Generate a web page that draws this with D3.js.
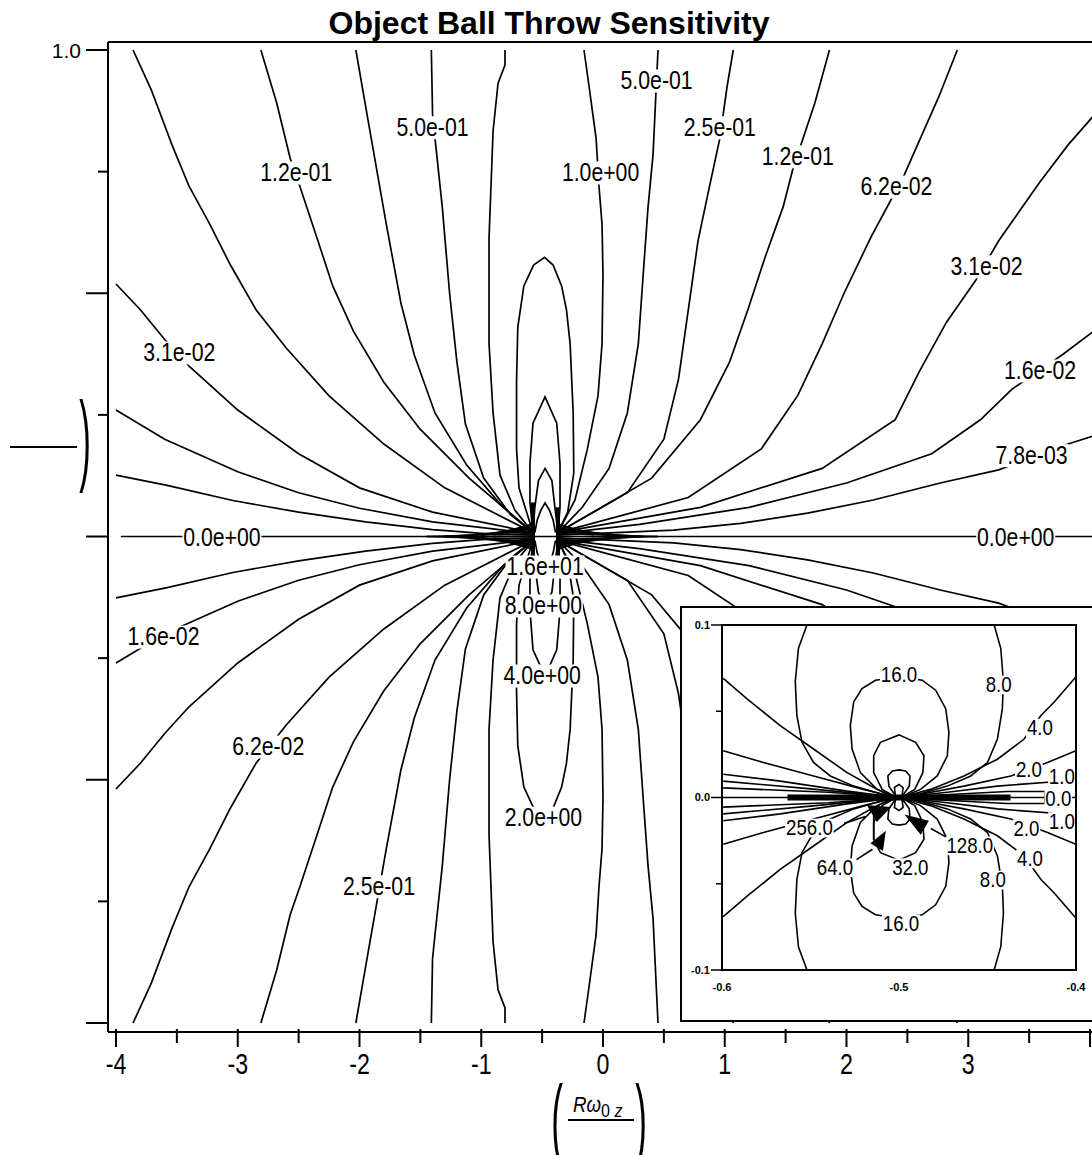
<!DOCTYPE html>
<html lang="en">
<head>
<meta charset="UTF-8">
<title>Object Ball Throw Sensitivity</title>
<script src="https://d3js.org/d3.v7.min.js"></script>
<style>
  body { margin: 0; background: #fff; }
  text { font-family: "Liberation Sans", Arial, sans-serif; fill: #000; }
  .title { font-weight: bold; }
</style>
</head>
<body>
<script>
const width = 1092, height = 1155;

// ---- main plot: tick values ----
const xTickValues = [-4, -3, -2, -1, 0, 1, 2, 3, 4];
const xTickLabels = ["-4", "-3", "-2", "-1", "0", "1", "2", "3"];
const xMinorTicks = [-3.5, -2.5, -1.5, -0.5, 0.5, 1.5, 2.5, 3.5];
const yMajorTicks = [1, 0.5, 0, -0.5, -1];
const yMinorTicks = [0.75, 0.25, -0.25, -0.75];

// ---- main plot contours, upper half (lower half is the mirror image) ----
const c1p0Left  = [[-0.805,1.0],[-0.805,0.969],[-0.862,0.932],[-0.903,0.833],[-0.936,0.614],[-0.936,0.396],[-0.903,0.254],[-0.846,0.126],[-0.723,0.054],[-0.575,0.008]];
const c1p0Right = [[-0.156,1.0],[-0.115,0.926],[-0.057,0.819],[-0.033,0.72],[-0.008,0.642],[0,0.538],[-0.008,0.396],[-0.041,0.289],[-0.13,0.178],[-0.23,0.075],[-0.37,0.008]];
const c5em1Left = [[-1.41,1.0],[-1.40,0.868],[-1.38,0.819],[-1.32,0.677],[-1.26,0.5],[-1.2,0.359],[-1.13,0.231],[-0.98,0.12],[-0.76,0.045],[-0.575,0.008]];
const c5em1Right = [[0.452,1.0],[0.435,0.912],[0.411,0.785],[0.37,0.677],[0.33,0.538],[0.29,0.396],[0.2,0.254],[0.05,0.14],[-0.17,0.06],[-0.37,0.008]];
const c2p5Left  = [[-2.03,1.0],[-1.93,0.856],[-1.78,0.642],[-1.66,0.48],[-1.55,0.373],[-1.38,0.254],[-1.12,0.147],[-0.82,0.06],[-0.575,0.008]];
const c2p5Right = [[1.07,1.0],[1.02,0.926],[0.96,0.819],[0.87,0.714],[0.78,0.607],[0.7,0.465],[0.62,0.323],[0.5,0.2],[0.2,0.09],[-0.37,0.008]];
const c1p2Left  = [[-2.81,1.0],[-2.68,0.891],[-2.57,0.778],[-2.49,0.72],[-2.36,0.622],[-2.22,0.515],[-2.05,0.422],[-1.8,0.317],[-1.5,0.22],[-1.1,0.12],[-0.575,0.008]];
const c1p2Right = [[1.86,1.0],[1.74,0.891],[1.56,0.756],[1.48,0.678],[1.33,0.573],[1.19,0.466],[1.04,0.359],[0.8,0.24],[0.4,0.12],[-0.37,0.008]];
const c6p2Left  = [[-3.86,1.0],[-3.71,0.918],[-3.54,0.805],[-3.40,0.72],[-3.23,0.642],[-3.06,0.558],[-2.85,0.466],[-2.6,0.387],[-2.25,0.289],[-1.8,0.19],[-1.3,0.1],[-0.575,0.008]];
const c6p2Right = [[2.91,1.0],[2.76,0.905],[2.47,0.741],[2.2,0.615],[1.98,0.5],[1.8,0.396],[1.6,0.29],[1.3,0.18],[0.7,0.08],[-0.37,0.008]];
const c3p1Left  = [[-4.0,0.519],[-3.8,0.466],[-3.6,0.405],[-3.4,0.35],[-3.0,0.26],[-2.5,0.17],[-2.0,0.1],[-1.4,0.05],[-0.575,0.008]];
const c3p1Right = [[4.02,0.862],[3.82,0.805],[3.59,0.729],[3.25,0.608],[3.06,0.526],[2.82,0.44],[2.6,0.34],[2.4,0.24],[1.8,0.14],[0.8,0.06],[-0.37,0.008]];
const c1p6Left  = [[-4.0,0.26],[-3.6,0.2],[-3.0,0.133],[-2.5,0.09],[-2.0,0.058],[-1.4,0.03],[-0.575,0.006]];
const c1p6Right = [[4.02,0.42],[3.77,0.373],[3.36,0.303],[3.1,0.24],[2.7,0.17],[2.0,0.11],[1.2,0.06],[0.3,0.025],[-0.37,0.006]];
const c7p8Left  = [[-4.0,0.126],[-3.58,0.105],[-3.04,0.074],[-2.5,0.05],[-1.95,0.03],[-1.4,0.014],[-0.86,0.004],[-0.575,0.003]];
const c7p8Right = [[4.02,0.206],[3.82,0.19],[3.25,0.137],[2.77,0.11],[2.22,0.075],[1.68,0.048],[1.13,0.027],[0.58,0.013],[-0.37,0.003]];
const loop2p0 = [[-0.575,0.008],[-0.69,0.1],[-0.71,0.18],[-0.71,0.32],[-0.70,0.43],[-0.65,0.515],[-0.57,0.558],[-0.48,0.574],[-0.41,0.558],[-0.34,0.515],[-0.30,0.466],[-0.27,0.396],[-0.245,0.254],[-0.24,0.13],[-0.29,0.05],[-0.37,0.008]];
const loop4p0 = [[-0.575,0.008],[-0.60,0.07],[-0.60,0.15],[-0.575,0.233],[-0.476,0.287],[-0.38,0.233],[-0.353,0.15],[-0.353,0.06],[-0.37,0.008]];
const loop8p0 = [[-0.575,0.008],[-0.56,0.06],[-0.53,0.115],[-0.476,0.14],[-0.42,0.115],[-0.395,0.06],[-0.37,0.008]];
const loop16p0 = [[-0.56,0.008],[-0.54,0.034],[-0.51,0.054],[-0.476,0.069],[-0.44,0.054],[-0.41,0.034],[-0.39,0.008]];
const bandLeft  = [[[-1.45,0.0],[-0.575,0.006]],[[-1.3,0.0],[-0.575,0.011]],[[-1.15,0.001],[-0.575,0.016]],[[-1.0,0.002],[-0.575,0.021]],[[-0.9,0.003],[-0.575,0.026]]];
const bandRight = [[[0.45,0.0],[-0.37,0.006]],[[0.32,0.0],[-0.37,0.011]],[[0.18,0.001],[-0.37,0.016]],[[0.05,0.002],[-0.37,0.021]],[[-0.08,0.003],[-0.37,0.026]]];
const centerBars = [[[-0.575,0.07],[-0.575,0.0]],[[-0.37,0.06],[-0.37,0.0]]];
const zeroLine = [[-3.96,0],[4.03,0]];

const mainUpper = [c1p0Left, c1p0Right, c5em1Left, c5em1Right, c2p5Left, c2p5Right,
  c1p2Left, c1p2Right, c6p2Left, c6p2Right, c3p1Left, c3p1Right, c1p6Left, c1p6Right,
  c7p8Left, c7p8Right, loop2p0, loop4p0, loop8p0, loop16p0, ...bandLeft, ...bandRight];

// contour labels, main plot
const mainLabelText = ["5.0e-01","1.2e-01","3.1e-02","0.0e+00","0.0e+00","5.0e-01","2.5e-01","1.0e+00","1.2e-01","6.2e-02","3.1e-02","1.6e-02","7.8e-03","1.6e+01","8.0e+00","4.0e+00","2.0e+00","1.6e-02","6.2e-02","2.5e-01"];
const mainLabelX = [-1.40,-2.52,-3.48,-3.13,3.39,0.44,0.96,-0.02,1.60,2.41,3.15,3.59,3.52,-0.476,-0.49,-0.50,-0.49,-3.61,-2.75,-1.84];
const mainLabelY = [0.842,0.749,0.379,0,0,0.938,0.842,0.749,0.782,0.720,0.556,0.342,0.168,-0.061,-0.141,-0.285,-0.577,-0.205,-0.431,-0.718];

// ---- inset (zoom on the singular point) ----
const insetYTicks = [0.1, 0.0, -0.1];
const insetYMinor = [0.05, -0.05];
const insetYLabels = ["0.1", "0.0", "-0.1"];
const insetXTicks = [-0.6, -0.5, -0.4];
const insetXLabels = ["-0.6", "-0.5", "-0.4"];

const i8Arc = [[-0.552,0.100],[-0.5568,0.0865],[-0.5586,0.0671],[-0.5577,0.0475],[-0.5548,0.032],[-0.5483,0.0203],[-0.5388,0.0125],[-0.5256,0.0066],[-0.5105,0.0022],[-0.5029,0.0003],
  [-0.4992,0.0003],[-0.4878,0.0022],[-0.4727,0.0066],[-0.4595,0.0125],[-0.45,0.0203],[-0.4444,0.0339],[-0.4416,0.0515],[-0.441,0.0671],[-0.4425,0.0865],[-0.4463,0.1002]];
const i16Loop = [[-0.5029,0.0003],[-0.5124,0.0047],[-0.5218,0.0144],[-0.5265,0.0281],[-0.5275,0.0417],[-0.5256,0.0554],[-0.5209,0.0632],[-0.5133,0.068],[-0.5,0.07],
  [-0.4869,0.068],[-0.4793,0.0622],[-0.4736,0.0515],[-0.4718,0.0378],[-0.4727,0.0242],[-0.4784,0.0125],[-0.4878,0.0047],[-0.4983,0.0003]];
const i32Loop = [[-0.502,0.0003],[-0.5095,0.0047],[-0.5143,0.0144],[-0.5143,0.0242],[-0.5105,0.032],[-0.5,0.0363],[-0.4906,0.032],[-0.4859,0.0242],[-0.4865,0.0144],[-0.4911,0.0047],[-0.4983,0.0003]];
const i64Loop = [[-0.5015,0.0003],[-0.5057,0.0066],[-0.5063,0.0125],[-0.5038,0.0154],[-0.5,0.016],[-0.4962,0.0154],[-0.4938,0.0125],[-0.4942,0.0066],[-0.4985,0.0003]];
const i128Loop = [[-0.502,0.0008],[-0.5026,0.0058],[-0.5,0.0076],[-0.4977,0.0058],[-0.4983,0.0008]];
const i4Left  = [[-0.5993,0.069],[-0.586,0.0573],[-0.5671,0.0417],[-0.5483,0.0281],[-0.5293,0.0144],[-0.5143,0.0058],[-0.5029,0.0003]];
const i4Right = [[-0.4,0.07],[-0.4123,0.0554],[-0.4198,0.0475],[-0.4293,0.0339],[-0.4444,0.0222],[-0.4633,0.0125],[-0.4822,0.0047],[-0.4983,0.0003]];
const i2Left  = [[-0.5993,0.0271],[-0.5766,0.0203],[-0.5483,0.0125],[-0.52,0.0047],[-0.5029,0.0003]];
const i2Right = [[-0.4,0.0271],[-0.4161,0.0203],[-0.4368,0.0125],[-0.4633,0.0066],[-0.4916,0.0012],[-0.4983,0.0003]];
const i1Left  = [[-0.5993,0.0135],[-0.5671,0.0095],[-0.5293,0.0037],[-0.5029,0.0003]];
const i1Right = [[-0.4142,0.0144],[-0.4142,0.009],[-0.4444,0.0066],[-0.4727,0.003],[-0.4983,0.0003]];
const iNearLeft  = [[[-0.5993,0.0095],[-0.5500,0.005],[-0.5029,0.0003]],[[-0.5993,0.0056],[-0.5400,0.003],[-0.5029,0.0003]]];
const iNearRight = [[[-0.4175,0.0],[-0.4175,0.0035],[-0.4390,0.0035],[-0.4983,0.0003]]];
const iZero = [[-0.6,0],[-0.4,0]];
const iZeroBand = [[-0.563,0],[-0.437,0]];
const insetUpper = [i8Arc, i16Loop, i32Loop, i64Loop, i128Loop, i4Left, i4Right, i2Left, i2Right, i1Left, i1Right, ...iNearLeft, ...iNearRight];

const insetBlobs = [
  [[-0.5171,-0.0051],[-0.5057,-0.006],[-0.5124,-0.0133]],
  [[-0.5152,-0.0265],[-0.5082,-0.0206],[-0.5095,-0.03]],
  [[-0.4954,-0.0109],[-0.484,-0.0139],[-0.4878,-0.0206]]
];
const insetLeaders = [
  [[-0.5143,-0.0089],[-0.5143,-0.0246]],
  [[-0.531,-0.015],[-0.519,-0.011]],
  [[-0.524,-0.036],[-0.515,-0.030]],
  [[-0.468,-0.026],[-0.482,-0.018]]
];

const insetLabelText = ["16.0","8.0","4.0","2.0","1.0","0.0","1.0","2.0","4.0","8.0","16.0","32.0","64.0","128.0","256.0"];
const insetLabelX = [-0.5,-0.4437,-0.4204,-0.4266,-0.408,-0.410,-0.408,-0.428,-0.426,-0.447,-0.4989,-0.4936,-0.5362,-0.460,-0.5506];
const insetLabelY = [0.0717,0.0658,0.0407,0.0164,0.0125,-0.0006,-0.0135,-0.0176,-0.0351,-0.0474,-0.0728,-0.0402,-0.0402,-0.0275,-0.0172];

// ---------------- drawing ----------------
const svg = d3.select("body").append("svg")
  .attr("width", width).attr("height", height)
  .style("display", "block");

const x = d3.scaleLinear().domain([-4, 4]).range([116, 1090]);
const y = d3.scaleLinear().domain([-1, 1]).range([1023, 50]);

const mirror = pts => pts.map(([a, b]) => [a, -b]);

const defs = svg.append("defs");
defs.append("clipPath").attr("id", "mainClip")
  .append("rect").attr("x", 109).attr("y", 43).attr("width", 990).attr("height", 988);

const line = d3.line().x(d => x(d[0])).y(d => y(d[1]));

const gMain = svg.append("g").attr("clip-path", "url(#mainClip)");
const mainAll = mainUpper.concat(mainUpper.map(mirror));
gMain.selectAll("path.c").data(mainAll).join("path")
  .attr("class", "c")
  .attr("d", line)
  .attr("fill", "none").attr("stroke", "#000").attr("stroke-width", 1.7);
gMain.append("path").datum(zeroLine).attr("d", line)
  .attr("fill", "none").attr("stroke", "#000").attr("stroke-width", 1.7);
gMain.selectAll("path.bar").data(centerBars.concat(centerBars.map(mirror))).join("path")
  .attr("class", "bar").attr("d", line)
  .attr("fill", "none").attr("stroke", "#000").attr("stroke-width", 4);

// narrow labels with a white gap behind them
function addLabels(g, texts, xs, ys, sx, sy, size, k) {
  const lg = g.append("g");
  texts.forEach((t, i) => {
    const cell = lg.append("g")
      .attr("transform", `translate(${sx(xs[i])},${sy(ys[i])}) scale(${k},1)`);
    const tx = cell.append("text")
      .attr("text-anchor", "middle").attr("dy", "0.36em")
      .attr("font-size", size).text(t);
    const b = tx.node().getBBox();
    cell.insert("rect", "text")
      .attr("x", b.x - 1).attr("y", b.y + 3).attr("width", b.width + 2).attr("height", b.height - 5)
      .attr("fill", "#fff");
  });
}
addLabels(gMain, mainLabelText, mainLabelX, mainLabelY, x, y, 25, 0.85);

// frame and axes
svg.append("path").attr("d", "M108,42H1092M108,42V1032M108,1032H1092")
  .attr("fill", "none").attr("stroke", "#000").attr("stroke-width", 2);

svg.append("g").selectAll("line.ymaj").data(yMajorTicks).join("line")
  .attr("x1", 86).attr("x2", 108).attr("y1", d => y(d)).attr("y2", d => y(d))
  .attr("stroke", "#000").attr("stroke-width", 2);
svg.append("g").selectAll("line.ymin").data(yMinorTicks).join("line")
  .attr("x1", 98).attr("x2", 108).attr("y1", d => y(d)).attr("y2", d => y(d))
  .attr("stroke", "#000").attr("stroke-width", 2);
svg.append("text").attr("x", 81).attr("y", y(1)).attr("dy", "0.36em")
  .attr("text-anchor", "end").attr("font-size", 21).text("1.0");

svg.append("g").selectAll("line.xmaj").data(xTickValues).join("line")
  .attr("x1", d => x(d)).attr("x2", d => x(d)).attr("y1", 1029).attr("y2", 1047)
  .attr("stroke", "#000").attr("stroke-width", 2);
svg.append("g").selectAll("line.xmin").data(xMinorTicks).join("line")
  .attr("x1", d => x(d)).attr("x2", d => x(d)).attr("y1", 1029).attr("y2", 1043)
  .attr("stroke", "#000").attr("stroke-width", 2);
svg.append("g").selectAll("text.xl").data(xTickLabels).join("text")
  .attr("transform", (d, i) => `translate(${x(xTickValues[i])},1074) scale(0.8,1)`)
  .attr("text-anchor", "middle").attr("font-size", 29).text(d => d);

// title
svg.append("text").attr("class", "title").attr("x", 549).attr("y", 34)
  .attr("text-anchor", "middle").attr("font-size", 32).text("Object Ball Throw Sensitivity");

// y axis label (fraction bar and bracket)
svg.append("line").attr("x1", 10).attr("x2", 77).attr("y1", 447).attr("y2", 447)
  .attr("stroke", "#000").attr("stroke-width", 2);
svg.append("text").attr("transform", "translate(85,472) scale(0.35,1)")
  .attr("text-anchor", "middle").attr("font-size", 100).text(")");

// x axis label
svg.append("text").attr("transform", "translate(557,1150) scale(0.35,0.93)")
  .attr("text-anchor", "middle").attr("font-size", 100).text("(");
svg.append("text").attr("transform", "translate(641,1150) scale(0.35,0.93)")
  .attr("text-anchor", "middle").attr("font-size", 100).text(")");
svg.append("line").attr("x1", 568).attr("x2", 634).attr("y1", 1120).attr("y2", 1120)
  .attr("stroke", "#000").attr("stroke-width", 2);
const xl = svg.append("text").attr("transform", "translate(573,1112) scale(0.85,1)").attr("font-size", 22);
xl.append("tspan").attr("font-style", "italic").text("Rω");
xl.append("tspan").attr("dy", 5).attr("font-size", 19).text("0 ");
xl.append("tspan").attr("font-style", "italic").attr("font-size", 19).text("z");

// ---------------- inset ----------------
svg.append("rect").attr("x", 681).attr("y", 607).attr("width", 430).attr("height", 414)
  .attr("fill", "#fff").attr("stroke", "#000").attr("stroke-width", 2);

const xi = d3.scaleLinear().domain([-0.6, -0.4]).range([722, 1076]);
const yi = d3.scaleLinear().domain([-0.1, 0.1]).range([970, 625]);
const lineI = d3.line().x(d => xi(d[0])).y(d => yi(d[1]));

defs.append("clipPath").attr("id", "insetClip")
  .append("rect").attr("x", 722).attr("y", 625).attr("width", 354).attr("height", 345);

const gIn = svg.append("g").attr("clip-path", "url(#insetClip)");
gIn.selectAll("path.ic").data(insetUpper.concat(insetUpper.map(mirror))).join("path")
  .attr("class", "ic").attr("d", lineI)
  .attr("fill", "none").attr("stroke", "#000").attr("stroke-width", 1.6);
gIn.append("path").datum(iZero).attr("d", lineI)
  .attr("fill", "none").attr("stroke", "#000").attr("stroke-width", 1.6);
gIn.append("path").datum(iZeroBand).attr("d", lineI)
  .attr("fill", "none").attr("stroke", "#000").attr("stroke-width", 6);
gIn.selectAll("path.lead").data(insetLeaders).join("path")
  .attr("class", "lead").attr("d", lineI)
  .attr("fill", "none").attr("stroke", "#000").attr("stroke-width", 1.6);
gIn.selectAll("path.blob").data(insetBlobs).join("path")
  .attr("class", "blob").attr("d", d => lineI(d) + "Z")
  .attr("fill", "#000").attr("stroke", "#000").attr("stroke-width", 2);
addLabels(gIn, insetLabelText, insetLabelX, insetLabelY, xi, yi, 22, 0.85);

svg.append("rect").attr("x", 722).attr("y", 625).attr("width", 354).attr("height", 345)
  .attr("fill", "none").attr("stroke", "#000").attr("stroke-width", 2);

svg.append("g").selectAll("line.iy").data(insetYTicks).join("line")
  .attr("x1", 711).attr("x2", 722).attr("y1", d => yi(d)).attr("y2", d => yi(d))
  .attr("stroke", "#000").attr("stroke-width", 1.5);
svg.append("g").selectAll("line.iym").data(insetYMinor).join("line")
  .attr("x1", 716).attr("x2", 722).attr("y1", d => yi(d)).attr("y2", d => yi(d))
  .attr("stroke", "#000").attr("stroke-width", 1.5);
svg.append("g").selectAll("text.iyl").data(insetYLabels).join("text")
  .attr("x", 710).attr("y", (d, i) => yi(insetYTicks[i])).attr("dy", "0.36em")
  .attr("text-anchor", "end").attr("font-size", 11).attr("font-weight", "bold").text(d => d);
svg.append("g").selectAll("text.ixl").data(insetXLabels).join("text")
  .attr("x", (d, i) => xi(insetXTicks[i])).attr("y", 991)
  .attr("text-anchor", "middle").attr("font-size", 11).attr("font-weight", "bold").text(d => d);
</script>
</body>
</html>
